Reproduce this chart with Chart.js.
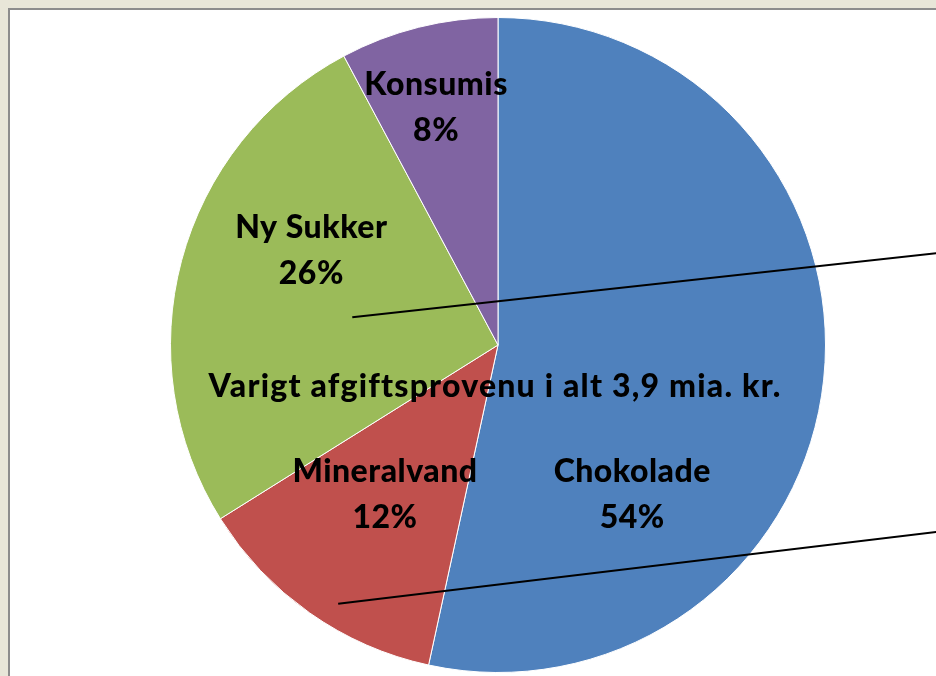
<!DOCTYPE html>
<html>
<head>
<meta charset="utf-8">
<script src="https://cdn.jsdelivr.net/npm/chart.js@4"></script>
<style>
  html, body { margin: 0; padding: 0; }
  body { width: 936px; height: 676px; background: #e8e6d8; overflow: hidden; position: relative; }
  .panel { position: absolute; left: 8px; top: 8px; width: 960px; height: 700px; background: #fff; border: 2px solid #8c8c8c; box-sizing: border-box; }
  #chart { position: absolute; left: 0; top: 0; }
</style>
</head>
<body>
<div class="panel"></div>
<canvas id="chart" width="936" height="676"></canvas>
<script>
// afgiftsprovenu fordelt på afgifter (andel af 3,9 mia. kr.)
const categories = ['Chokolade', 'Mineralvand', 'Ny Sukker', 'Konsumis'];
const shares = [53.4, 12.7, 26.1, 7.8];          // slice sizes as drawn
const shareLabels = ['54%', '12%', '26%', '8%']; // printed labels
const centerTitle = 'Varigt afgiftsprovenu i alt 3,9 mia. kr.';

const FONT = '900 32px Lato, "Open Sans", sans-serif';

// labels sit where they were placed by hand, given as offsets in units of the radius
const labelPlugin = {
  id: 'pieLabels',
  afterDatasetsDraw(chart, args, opts) {
    const ctx = chart.ctx;
    const arc = chart.getDatasetMeta(0).data[0];
    const cx = arc.x, cy = arc.y, r = arc.outerRadius;

    // the two pointer lines coming in from the right
    ctx.save();
    ctx.strokeStyle = '#000';
    ctx.lineWidth = 2;
    opts.pointers.forEach(p => {
      ctx.beginPath();
      ctx.moveTo(cx + p[0] * r, cy + p[1] * r);
      ctx.lineTo(cx + p[2] * r, cy + p[3] * r);
      ctx.stroke();
    });

    ctx.fillStyle = '#000';
    ctx.font = FONT;
    ctx.textAlign = 'center';
    ctx.textBaseline = 'middle';
    ctx.letterSpacing = '0.5px';
    const gap = 46;
    categories.forEach((name, i) => {
      const o = opts.offsets[i];
      const x = cx + o[0] * r, y = cy + o[1] * r;
      ctx.fillText(name, x, y - gap / 2);
      ctx.fillText(shareLabels[i], x, y + gap / 2);
    });
    ctx.letterSpacing = '1.2px';
    ctx.fillText(centerTitle, cx + opts.title[0] * r, cy + opts.title[1] * r);
    ctx.restore();
  }
};

new Chart(document.getElementById('chart'), {
  type: 'pie',
  data: {
    labels: categories,
    datasets: [{
      data: shares,
      backgroundColor: ['#4f81bd', '#c0504d', '#9bbb59', '#8064a2'],
      borderColor: '#ffffff',
      borderWidth: 1
    }]
  },
  options: {
    responsive: false,
    animation: false,
    layout: { padding: { left: 170, right: 110, top: 17, bottom: 3 } },
    plugins: {
      legend: { display: false },
      tooltip: { enabled: false },
      pieLabels: {
        offsets: [[0.41, 0.457], [-0.345, 0.457], [-0.57, -0.287], [-0.189, -0.726]],
        title: [-0.009, 0.128],
        pointers: [[1.338, -0.28, -0.445, -0.085], [1.338, 0.571, -0.488, 0.79]]
      }
    }
  },
  plugins: [labelPlugin]
});
</script>
</body>
</html>
